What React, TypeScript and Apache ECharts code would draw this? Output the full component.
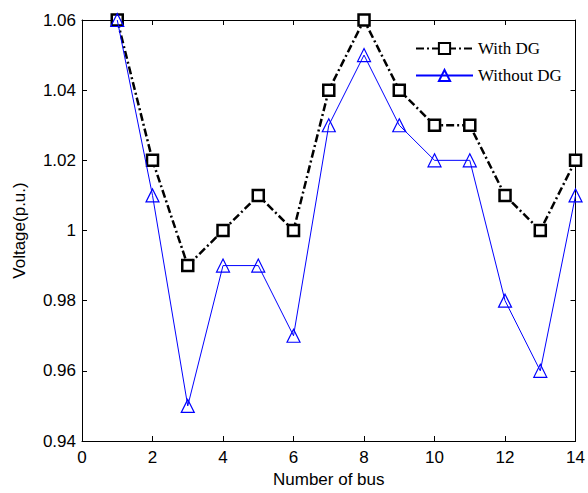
import React, { useEffect, useRef } from "react";
import * as echarts from "echarts";

const buses = [1, 2, 3, 4, 5, 6, 7, 8, 9, 10, 11, 12, 13, 14];
const withDG = [1.06, 1.02, 0.99, 1.0, 1.01, 1.0, 1.04, 1.06, 1.04, 1.03, 1.03, 1.01, 1.0, 1.02];
const withoutDG = [1.06, 1.01, 0.95, 0.99, 0.99, 0.97, 1.03, 1.05, 1.03, 1.02, 1.02, 0.98, 0.96, 1.01];
const seriesNames = ["With DG", "Without DG"];

export default function App() {
  const ref = useRef<HTMLDivElement>(null);
  useEffect(() => {
    if (!ref.current) return;
    const chart = echarts.init(ref.current, null, { renderer: "svg" });
    const labelFont = { fontFamily: "Liberation Sans, Arial", fontSize: 17, color: "#000" };
    const axisCommon = {
      axisLine: { show: true, onZero: false, lineStyle: { color: "#000", width: 1 } },
      axisTick: { show: true, inside: true, length: 5, lineStyle: { color: "#000" } },
      splitLine: { show: false },
    };
    chart.setOption({
      animation: false,
      backgroundColor: "#fff",
      grid: { left: 82, right: 11, top: 20, bottom: 50 },
      legend: {
        orient: "vertical",
        left: 410,
        top: 35,
        itemWidth: 57,
        itemHeight: 14,
        itemGap: 10,
        textStyle: { fontFamily: "Liberation Serif, Times New Roman", fontSize: 17, color: "#000" },
        data: seriesNames,
      },
      xAxis: [
        {
          type: "value",
          min: 0,
          max: 14,
          interval: 2,
          name: "Number of bus",
          nameLocation: "middle",
          nameGap: 30,
          nameTextStyle: labelFont,
          axisLabel: { ...labelFont, margin: 8 },
          ...axisCommon,
        },
        {
          type: "value",
          position: "top",
          min: 0,
          max: 14,
          interval: 2,
          axisLabel: { show: false },
          ...axisCommon,
        },
      ],
      yAxis: [
        {
          type: "value",
          min: 0.94,
          max: 1.06,
          interval: 0.02,
          name: "Voltage(p.u.)",
          nameLocation: "middle",
          nameGap: 54,
          nameTextStyle: labelFont,
          axisLabel: {
            ...labelFont,
            margin: 6,
            formatter: (v: number) => String(Number(v.toFixed(2))),
          },
          ...axisCommon,
        },
        {
          type: "value",
          position: "right",
          min: 0.94,
          max: 1.06,
          interval: 0.02,
          axisLabel: { show: false },
          ...axisCommon,
        },
      ],
      series: [
        {
          name: seriesNames[0],
          type: "line",
          data: buses.map((b, i) => [b, withDG[i]]),
          symbol: "rect",
          symbolSize: 11,
          lineStyle: { color: "#000", width: 2.5, type: [8, 3, 2, 3] },
          itemStyle: { color: "#fff", borderColor: "#000", borderWidth: 2.5 },
          z: 2,
        },
        {
          name: seriesNames[1],
          type: "line",
          data: buses.map((b, i) => [b, withoutDG[i]]),
          symbol: "triangle",
          symbolSize: 13,
          lineStyle: { color: "#0000ff", width: 1 },
          itemStyle: { color: "rgba(0,0,0,0)", borderColor: "#0000ff", borderWidth: 1.2 },
          z: 3,
        },
      ],
    });
    return () => chart.dispose();
  }, []);
  return <div ref={ref} style={{ width: 588, height: 493, position: "absolute", left: 0, top: 0 }} />;
}
